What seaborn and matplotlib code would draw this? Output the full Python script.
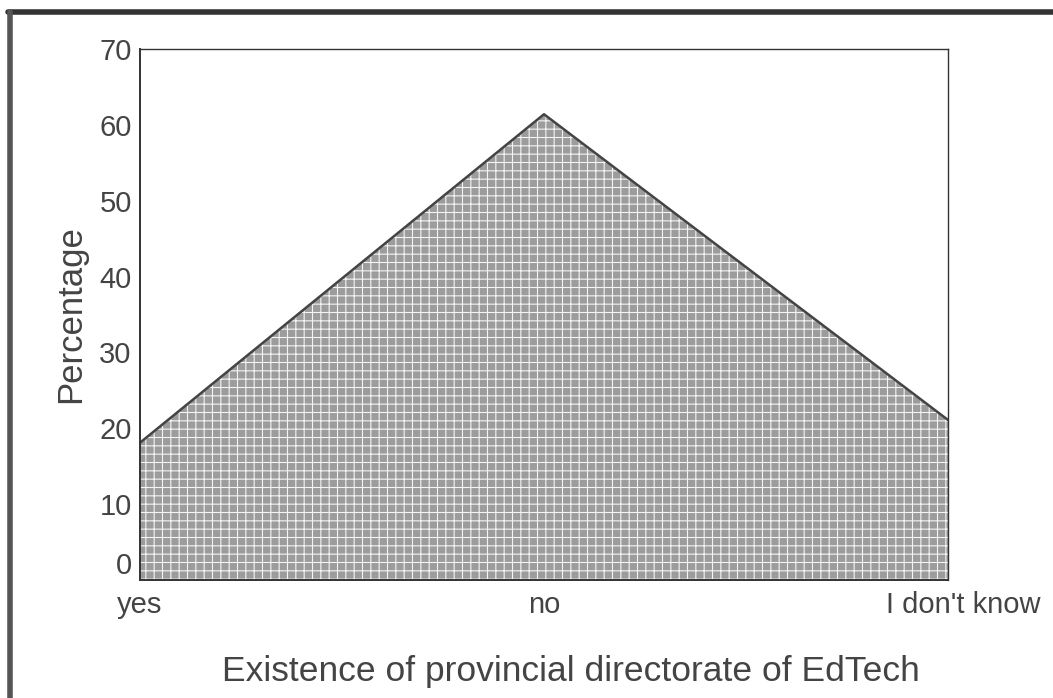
import matplotlib
matplotlib.use("Agg")
import matplotlib.pyplot as plt
import matplotlib.transforms as mtransforms
import seaborn as sns
import pandas as pd
from matplotlib.lines import Line2D

# Valores
categorias = ["yes", "no", "I don't know"]
percentuais = [18.1, 61.4, 21.1]
yticks = [0, 10, 20, 30, 40, 50, 60, 70]

df = pd.DataFrame({"pos": range(len(categorias)), "pct": percentuais})

sns.set_style("white")
plt.rcParams["font.family"] = ["Liberation Sans", "DejaVu Sans"]
plt.rcParams["hatch.color"] = "#f4f4f4"
plt.rcParams["hatch.linewidth"] = 0.8

W, H = 1053, 698
fig = plt.figure(figsize=(W / 100, H / 100), dpi=100)
ax = fig.add_axes([140 / W, 1 - 580 / H, 808 / W, 531 / H])

# área preenchida com hachura em grade
ax.fill_between(df["pos"], 0, df["pct"], facecolor="#9c9c9c", edgecolor="#f4f4f4",
                hatch="++", linewidth=0)
sns.lineplot(data=df, x="pos", y="pct", ax=ax, color="#444444", linewidth=1.8)

ax.set_xlim(0, len(categorias) - 1)
ax.set_ylim(0, 70)
ax.set_xticks(df["pos"])
ax.set_xticklabels(categorias)
ax.set_yticks(yticks)

for lado in ["left", "bottom"]:
    ax.spines[lado].set_color("#333333")
    ax.spines[lado].set_linewidth(1.4)
for lado in ["top", "right"]:
    ax.spines[lado].set_color("#333333")
    ax.spines[lado].set_linewidth(1.0)

ax.tick_params(axis="both", which="both", direction="out", length=4, width=3,
               color="#555555", labelsize=21, labelcolor="#444444")
ax.tick_params(axis="y", pad=2)
ax.tick_params(axis="x", pad=4)
# o "0" fica um pouco acima da marca no original
ax.get_yticklabels()[0].set_va("bottom")
# o último rótulo do eixo x está um pouco deslocado para a direita
ultimo = ax.get_xticklabels()[-1]
ultimo.set_transform(ultimo.get_transform()
                     + mtransforms.ScaledTranslation(0.15, 0, fig.dpi_scale_trans))

ax.set_xlabel("Existence of provincial directorate of EdTech", fontsize=25.5,
              color="#444444", labelpad=26)
ax.xaxis.label.set_x(0.533)
ax.set_ylabel("Percentage", fontsize=25, color="#444444", labelpad=9)

# moldura parcial em volta da figura (topo e esquerda)
fig.lines.append(Line2D([8 / W, 1.0], [1 - 12 / H, 1 - 12 / H], transform=fig.transFigure,
                        color="#333333", linewidth=4))
fig.lines.append(Line2D([10 / W, 10 / W], [1 - 12 / H, 0.0], transform=fig.transFigure,
                        color="#555555", linewidth=4))

fig.savefig("out.png", dpi=100)
